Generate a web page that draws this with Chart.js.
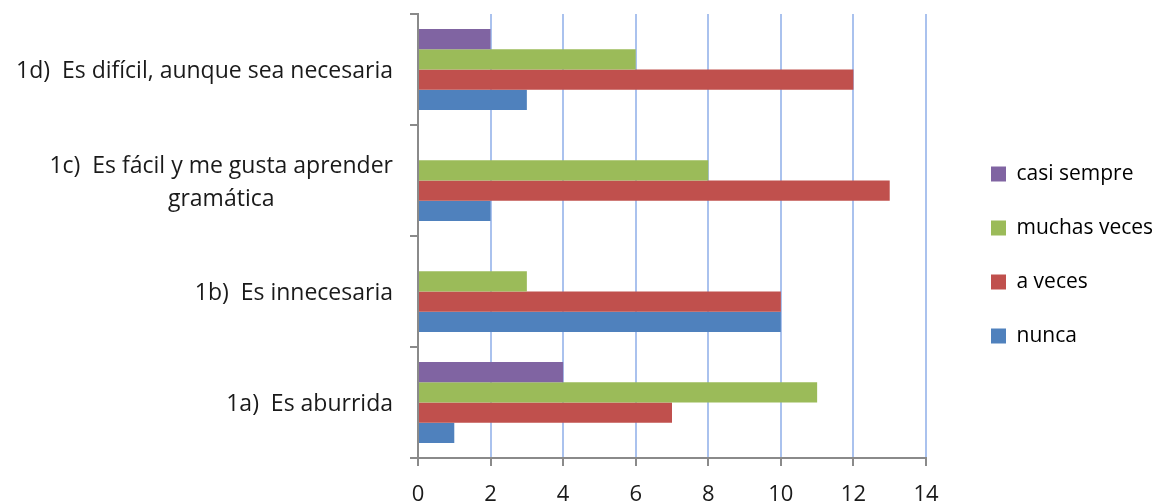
<!DOCTYPE html>
<html>
<head>
<meta charset="utf-8">
<script src="https://cdn.jsdelivr.net/npm/chart.js@4/dist/chart.umd.min.js"></script>
<style>
  html, body { margin: 0; padding: 0; background: #ffffff; }
  #wrap { width: 1163px; height: 504px; position: relative; }
  canvas { display: block; }
</style>
</head>
<body>
<div id="wrap"><canvas id="chart" width="1163" height="504"></canvas></div>
<script>
// Survey answers about grammar, one row per statement (top row first)
const categories = [
  ['1d)  Es difícil, aunque sea necesaria'],
  ['1c)  Es fácil y me gusta aprender', 'gramática'],
  ['1b)  Es innecesaria'],
  ['1a)  Es aburrida']
];
const seriesNames = ['casi sempre', 'muchas veces', 'a veces', 'nunca'];
const casiSempre   = [2, 0, 0, 4];
const muchasVeces  = [6, 8, 3, 11];
const aVeces       = [12, 13, 10, 7];
const nunca        = [3, 2, 10, 1];
const xTicks = [0, 2, 4, 6, 8, 10, 12, 14];

const FONT = '"Open Sans", "Noto Sans", sans-serif';
const TEXT = '#1a1a1a';
const AXIS = '#8a8a8a';
const GRID = '#aac2ee';

// plot/legend geometry
const PLOT_LEFT = 418;
const PLOT_TOP = 14;
const PLOT_BOTTOM = 458;
const PLOT_RIGHT = 926;
const LEGEND_LEFT = 958;
const LEGEND_PAD = 33;
const TOP_PAD = 6;

// Category labels: block right-aligned to the axis, lines centred inside the block
const categoryLabels = {
  id: 'categoryLabels',
  afterDraw(chart) {
    const scale = chart.scales.y;
    const ctx = chart.ctx;
    const lineH = 33, gap = 25;
    ctx.save();
    ctx.font = '23px ' + FONT;
    ctx.fillStyle = TEXT;
    ctx.textAlign = 'center';
    ctx.textBaseline = 'middle';
    scale.ticks.forEach((t, i) => {
      const lines = categories[i];
      const w = Math.max(...lines.map(l => ctx.measureText(l).width));
      const cx = scale.right - gap - w / 2;
      const cy = scale.getPixelForTick(i) + 2;
      const y0 = cy - (lines.length - 1) * lineH / 2;
      lines.forEach((l, k) => ctx.fillText(l, cx, y0 + k * lineH));
    });
    ctx.restore();
  }
};

const colors = ['#8064A2', '#9BBB59', '#C0504D', '#4F81BD'];
const values = [casiSempre, muchasVeces, aVeces, nunca];

// invisible spacer axis used only to reserve room in the layout
const spacer = (position, size) => ({
  type: 'linear',
  position,
  display: true,
  grid: { display: false },
  border: { display: false },
  ticks: { display: false },
  afterFit(scale) {
    if (scale.isHorizontal()) scale.height = size; else scale.width = size;
  }
});

new Chart(document.getElementById('chart'), {
  type: 'bar',
  data: {
    labels: categories.map(c => c.join(' ')),
    datasets: seriesNames.map((name, i) => ({
      label: name,
      data: values[i],
      backgroundColor: colors[i],
      borderWidth: 0,
      categoryPercentage: 0.73,
      barPercentage: 1.0
    }))
  },
  options: {
    indexAxis: 'y',
    responsive: false,
    animation: false,
    devicePixelRatio: 1,
    layout: { padding: { top: TOP_PAD, right: 0, bottom: 0, left: 0 } },
    scales: {
      x: {
        min: 0, max: 14,
        afterBuildTicks(scale) { scale.ticks = xTicks.map(v => ({ value: v })); },
        grid: {
          color: ctx => (ctx.tick && ctx.tick.value === 0) ? 'rgba(0,0,0,0)' : GRID,
          lineWidth: 2,
          drawTicks: true,
          tickLength: 8,
          tickColor: AXIS,
          tickWidth: 2
        },
        border: { display: true, color: AXIS, width: 2 },
        ticks: {
          font: { family: FONT, size: 22 },
          color: TEXT,
          padding: 16,
          maxRotation: 0
        },
        afterFit(scale) { scale.height = 504 - PLOT_BOTTOM; }
      },
      y: {
        grid: {
          display: true,
          drawOnChartArea: false,
          drawTicks: true,
          tickLength: 8,
          color: AXIS,
          lineWidth: 2,
          offset: true
        },
        border: { display: true, color: AXIS, width: 2 },
        ticks: { display: false },
        afterFit(scale) { scale.width = PLOT_LEFT; }
      },
      gapTop: spacer('top', PLOT_TOP - TOP_PAD),
      gapRight: spacer('right', LEGEND_LEFT - PLOT_RIGHT)
    },
    plugins: {
      legend: {
        position: 'right',
        align: 'center',
        maxWidth: 1163 - LEGEND_LEFT,
        labels: {
          boxWidth: 15,
          boxHeight: 15,
          padding: LEGEND_PAD,
          color: '#000000',
          font: { family: FONT, size: 21 }
        }
      },
      tooltip: { enabled: false }
    }
  },
  plugins: [categoryLabels]
});
</script>
</body>
</html>
